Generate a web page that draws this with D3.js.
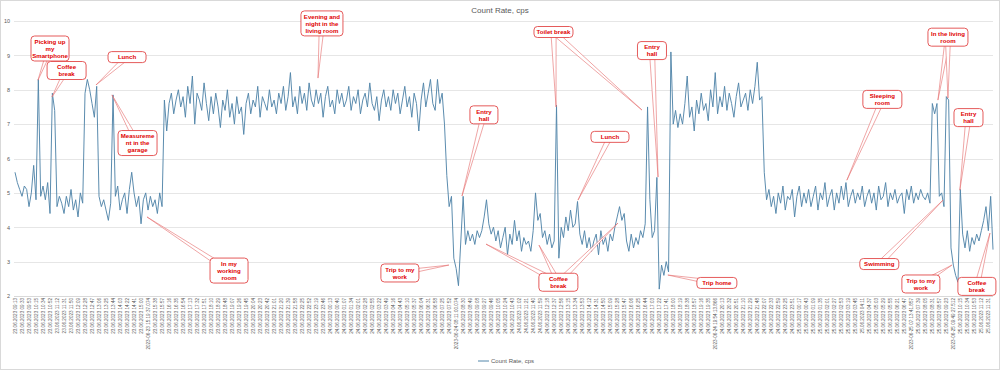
<!DOCTYPE html>
<html>
<head>
<meta charset="utf-8">
<script src="https://cdn.jsdelivr.net/npm/d3@7"></script>
<style>
body{margin:0;background:#fff;}
svg text{font-family:"Liberation Sans",Arial,sans-serif;}
</style>
</head>
<body>
<div id="plot"></div>
<script>
// Count rate readings (cps), three readings per x label
var countRate = [
	5.6, 5.3, 5.1, 4.9, 5.2, 5.1, 4.6, 5.0, 5.8, 4.8, 8.3, 4.9, 5.2, 4.8, 5.3, 4.4, 7.9, 7.4, 4.6, 4.9,
	4.7, 4.4, 4.9, 4.6, 5.1, 4.5, 4.8, 4.3, 5.0, 4.7, 7.9, 8.3, 8.0, 7.6, 7.2, 8.1, 4.9, 4.6, 4.8, 4.5,
	4.2, 4.7, 7.85, 4.9, 5.2, 4.5, 4.8, 5.0, 4.4, 5.1, 5.6, 5.0, 4.6, 4.9, 4.1, 4.8, 5.0, 4.5, 4.9, 4.6,
	4.8, 4.4, 5.0, 4.6, 7.7, 6.8, 7.6, 7.9, 7.3, 7.7, 8.0, 7.5, 7.8, 7.2, 8.1, 7.6, 8.4, 7.0, 7.9, 7.7,
	7.4, 8.2, 7.6, 7.1, 7.8, 7.3, 7.9, 7.5, 6.9, 7.7, 7.4, 8.0, 7.2, 7.6, 7.0, 7.8, 7.3, 7.5, 6.7, 7.6,
	7.9, 7.3, 7.7, 7.5, 8.1, 7.2, 7.8, 7.6, 7.4, 8.0, 7.5, 7.7, 7.3, 7.9, 7.6, 8.1, 7.4, 7.8, 8.5, 7.5,
	7.8, 7.3, 8.1, 7.6, 7.9, 7.4, 8.2, 7.7, 7.5, 8.0, 7.6, 7.9, 7.2, 7.8, 8.1, 7.5, 7.7, 7.3, 8.0, 7.6,
	7.9, 7.5, 7.7, 8.1, 7.4, 7.8, 7.6, 8.0, 7.3, 7.7, 7.9, 7.5, 8.2, 7.6, 7.4, 7.8, 7.1, 7.7, 8.0, 7.5,
	7.8, 7.4, 8.0, 7.6, 7.9, 7.3, 7.7, 8.1, 7.5, 7.8, 7.2, 7.9, 7.6, 6.8, 7.7, 8.2, 7.5, 7.9, 8.3, 7.6,
	7.4, 8.3, 7.6, 7.9, 7.0, 5.5, 4.6, 4.9, 3.1, 2.8, 2.3, 3.6, 4.9, 3.5, 3.9, 3.6, 3.8, 3.5, 3.9, 3.7,
	3.9, 4.3, 4.8, 4.1, 3.8, 4.0, 3.6, 3.9, 3.4, 3.7, 4.0, 3.2, 3.8, 3.5, 4.2, 3.6, 3.9, 3.3, 3.7, 3.5,
	3.6, 3.3, 3.9, 5.0, 4.2, 4.4, 3.7, 3.9, 3.5, 3.8, 3.4, 3.6, 7.55, 3.1, 4.0, 3.7, 4.3, 3.9, 4.5, 4.0,
	4.1, 4.75, 3.8, 3.5, 3.9, 3.4, 3.7, 3.3, 3.6, 3.8, 3.2, 3.9, 3.5, 3.7, 3.3, 3.8, 3.6, 4.0, 4.3, 4.6,
	4.2, 4.4, 3.6, 3.3, 3.8, 3.4, 3.7, 3.5, 3.9, 3.7, 4.1, 7.5, 4.8, 3.7, 3.9, 5.45, 2.2, 2.9, 2.6, 3.0,
	2.7, 9.1, 7.0, 7.4, 6.9, 7.3, 7.0, 7.6, 8.4, 7.2, 7.5, 6.8, 7.7, 7.3, 7.9, 7.4, 7.6, 7.1, 8.0, 7.5,
	8.5, 7.3, 7.8, 7.5, 8.1, 7.4, 7.9, 7.6, 7.2, 7.8, 8.2, 7.5, 7.7, 7.9, 7.4, 8.0, 7.6, 8.1, 8.8, 7.7,
	7.8, 5.6, 4.8, 5.1, 4.6, 4.9, 4.4, 5.0, 4.7, 5.2, 4.5, 4.9, 4.8, 5.1, 4.3, 4.9, 5.2, 4.6, 5.0, 4.7,
	5.1, 4.6, 4.9, 5.2, 4.5, 5.0, 4.8, 5.3, 4.6, 4.9, 5.1, 4.5, 5.0, 4.7, 5.2, 4.8, 5.3, 4.6, 4.9, 5.1,
	4.7, 5.0, 4.8, 5.2, 4.6, 4.9, 5.1, 4.7, 5.0, 4.5, 5.2, 4.8, 4.9, 5.3, 4.6, 5.0, 4.8, 5.1, 4.7, 4.9,
	5.0, 4.4, 5.1, 4.8, 5.2, 4.7, 5.0, 4.8, 5.1, 4.9, 4.8, 5.0, 4.7, 7.6, 7.3, 7.6, 4.9, 5.0, 4.6, 7.8,
	7.7, 3.4, 2.9, 2.6, 2.4, 5.1, 3.8, 3.4, 3.9, 3.3, 3.7, 3.5, 3.8, 3.6, 3.9, 4.2, 4.6, 3.9, 4.9, 3.35
];

var timeLabels = [
	"23.06.2023 09:13","23.06.2023 09:33","23.06.2023 09:53","23.06.2023 10:15","23.06.2023 10:34",
	"23.06.2023 10:52","23.06.2023 11:12","23.06.2023 11:31","23.06.2023 11:50","23.06.2023 12:09",
	"23.06.2023 12:28","23.06.2023 12:47","23.06.2023 13:06","23.06.2023 13:25","23.06.2023 13:44",
	"23.06.2023 14:03","23.06.2023 14:22","23.06.2023 14:41","23.06.2023 15:00","2023-06-23 15:19:37.074",
	"23.06.2023 15:38","23.06.2023 15:57","23.06.2023 16:16","23.06.2023 16:35","23.06.2023 16:54",
	"23.06.2023 17:13","23.06.2023 17:32","23.06.2023 17:51","23.06.2023 18:10","23.06.2023 18:29",
	"23.06.2023 18:48","23.06.2023 19:07","23.06.2023 19:26","23.06.2023 19:45","23.06.2023 20:04",
	"23.06.2023 20:23","23.06.2023 20:42","23.06.2023 21:01","23.06.2023 21:20","23.06.2023 21:39",
	"23.06.2023 21:58","23.06.2023 22:25","23.06.2023 22:52","23.06.2023 23:19","23.06.2023 23:46",
	"24.06.2023 00:13","24.06.2023 00:40","24.06.2023 01:07","24.06.2023 01:34","24.06.2023 02:01",
	"24.06.2023 02:28","24.06.2023 02:55","24.06.2023 03:22","24.06.2023 03:49","24.06.2023 04:16",
	"24.06.2023 04:43","24.06.2023 05:10","24.06.2023 05:37","24.06.2023 06:04","24.06.2023 06:31",
	"24.06.2023 06:58","24.06.2023 07:25","24.06.2023 07:52","2023-06-24 08:11:00.074",
	"24.06.2023 08:30","24.06.2023 08:49","24.06.2023 09:08","24.06.2023 09:27","24.06.2023 09:46",
	"24.06.2023 10:05","24.06.2023 10:24","24.06.2023 10:43","24.06.2023 11:02","24.06.2023 11:21",
	"24.06.2023 11:40","24.06.2023 11:59","24.06.2023 12:18","24.06.2023 12:37","24.06.2023 12:56",
	"24.06.2023 13:15","24.06.2023 13:34","24.06.2023 13:53","24.06.2023 14:12","24.06.2023 14:31",
	"24.06.2023 14:50","24.06.2023 15:09","24.06.2023 15:28","24.06.2023 15:47","24.06.2023 16:06",
	"24.06.2023 16:25","24.06.2023 16:44","24.06.2023 17:03","24.06.2023 17:22","24.06.2023 17:41",
	"24.06.2023 18:00","24.06.2023 18:19","24.06.2023 18:38","24.06.2023 18:57","24.06.2023 19:16",
	"24.06.2023 19:35","2023-06-24 19:54:13.866",
	"24.06.2023 20:13","24.06.2023 20:32","24.06.2023 20:51","24.06.2023 21:10","24.06.2023 21:29",
	"24.06.2023 21:48","24.06.2023 22:07","24.06.2023 22:33","24.06.2023 22:59","24.06.2023 23:25",
	"24.06.2023 23:51","25.06.2023 00:17","25.06.2023 00:43","25.06.2023 01:09","25.06.2023 01:35",
	"25.06.2023 02:01","25.06.2023 02:27","25.06.2023 02:53","25.06.2023 03:19","25.06.2023 03:45",
	"25.06.2023 04:11","25.06.2023 04:37","25.06.2023 05:03","25.06.2023 05:29","25.06.2023 05:55",
	"25.06.2023 06:21","25.06.2023 06:47","2023-06-25 07:13:41.857",
	"25.06.2023 07:39","25.06.2023 08:05","25.06.2023 08:31","25.06.2023 08:57","25.06.2023 09:23",
	"2023-06-25 09:49:27.512",
	"25.06.2023 10:15","25.06.2023 10:34","25.06.2023 10:53","25.06.2023 11:12","25.06.2023 11:31"
];
var labelStep = 3;

var yTicks = [2,3,4,5,6,7,8,9,10];

// callouts: box centre (i = reading index, v = cps), box width, pointer targets
var notes = [
	{lines:["Picking up","my","Smartphone"], i:15.0, v:9.20, w:38, to:[[9.85,8.28]]},
	{lines:["Coffee","break"], i:22.1, v:8.56, w:39, to:[[15.85,7.79]]},
	{lines:["Lunch"], i:48.0, v:8.95, w:38, to:[[34.7,8.14]]},
	{lines:["Measureme","nt in the","garage"], i:52.5, v:6.45, w:39, to:[[41.55,7.85]]},
	{lines:["Evening and","night in the","living room"], i:131.5, v:9.93, w:42, to:[[129.8,8.34]]},
	{lines:["In my","working","room"], i:91.7, v:2.74, w:38, to:[[56.55,4.30]]},
	{lines:["Trip to my","work"], i:164.9, v:2.67, w:38, to:[[185.9,2.90]]},
	{lines:["Entry","hall"], i:200.9, v:7.27, w:28, to:[[191.5,4.91]]},
	{lines:["Coffee","break"], i:232.8, v:2.40, w:39, to:[[201.8,3.51],[224.5,3.48],[258.3,4.12]]},
	{lines:["Lunch"], i:254.9, v:6.63, w:38, to:[[241.2,4.79]]},
	{lines:["Toilet break"], i:230.7, v:9.68, w:39, to:[[231.8,7.50],[268.6,7.41]]},
	{lines:["Entry","hall"], i:272.9, v:9.14, w:29, to:[[275.5,5.46]]},
	{lines:["Trip home"], i:300.7, v:2.38, w:40, to:[[279.7,2.61]]},
	{lines:["Sleeping","room"], i:371.6, v:7.72, w:39, to:[[356.4,5.37]]},
	{lines:["In the living","room"], i:399.7, v:9.53, w:40, to:[[395.4,7.70],[399.7,7.76]]},
	{lines:["Entry","hall"], i:408.5, v:7.19, w:29, to:[[404.8,5.08]]},
	{lines:["Swimming"], i:370.3, v:2.93, w:39, to:[[397.6,4.79]]},
	{lines:["Trip to my","work"], i:388.1, v:2.35, w:38, to:[[401.4,2.90]]},
	{lines:["Coffee","break"], i:412.1, v:2.28, w:38, to:[[417.7,3.83]]}
];

var width = 1000, height = 370;
var plotL = 15, plotR = 993, plotT = 21, plotB = 296;

var svg = d3.select('#plot').append('svg')
	.attr('width',width)
	.attr('height',height);

svg.append('rect')
	.attr('x',0.5).attr('y',0.5)
	.attr('width',width-1).attr('height',height-1)
	.style('fill','#fff').style('stroke','#d9d9d9');

var x = d3.scaleLinear().domain([0,countRate.length-1]).range([plotL,plotR]);
var y = d3.scaleLinear().domain([2,10]).range([plotB,plotT]);

// gridlines
svg.append('g').selectAll('line')
	.data(yTicks).enter().append('line')
	.attr('x1',plotL-1).attr('x2',plotR)
	.attr('y1',function(d){return Math.round(y(d))+0.5;})
	.attr('y2',function(d){return Math.round(y(d))+0.5;})
	.style('stroke',function(d){return d==2?'#d9d9d9':'#e6e6e6';})
	.style('stroke-width',1);

// y axis labels
var yAxis = svg.append('g')
	.attr('transform','translate(10,0)')
	.call(d3.axisLeft(y).tickValues(yTicks).tickSize(0).tickPadding(0));
yAxis.select('.domain').remove();
yAxis.selectAll('text').style('font-size','5.5px').style('fill','#595959');

// x axis labels
var tickIdx = timeLabels.map(function(d,k){return k*labelStep;});
var xAxis = svg.append('g')
	.attr('transform','translate(0,'+plotB+')')
	.call(d3.axisBottom(x).tickValues(tickIdx).tickSize(0)
		.tickFormat(function(d){return timeLabels[d/labelStep];}));
xAxis.select('.domain').remove();
xAxis.selectAll('text')
	.attr('transform','rotate(-90)')
	.attr('x',-2).attr('y',0).attr('dy','0.35em')
	.style('text-anchor','end')
	.style('font-size','4.6px')
	.style('fill','#595959');

// the series
var line = d3.line()
	.x(function(d,i){return x(i);})
	.y(function(d){return y(d);});

svg.append('path')
	.datum(countRate)
	.attr('d',line)
	.style('fill','none')
	.style('stroke','#5286aa')
	.style('stroke-width',0.95)
	.style('stroke-linejoin','round');

// title
svg.append('text')
	.attr('x',width/2).attr('y',13)
	.attr('text-anchor','middle')
	.style('font-size','8px')
	.style('fill','#595959')
	.text('Count Rate, cps');

// legend
var leg = svg.append('g').attr('transform','translate(478,361)');
leg.append('line').attr('x1',0).attr('x2',11).attr('y1',0).attr('y2',0)
	.style('stroke','#5286aa').style('stroke-width',1);
leg.append('text').attr('x',13).attr('y',2)
	.style('font-size','6px').style('fill','#595959')
	.text('Count Rate, cps');

// callouts
var lineH = 7;
var cg = svg.append('g');

notes.forEach(function(n){
	var cx = x(n.i), cy = y(n.v);
	n.to.forEach(function(t){
		var tx = x(t[0]), ty = y(t[1]);
		var dx = tx-cx, dy = ty-cy;
		var len = Math.sqrt(dx*dx+dy*dy);
		var px = -dy/len*2.6, py = dx/len*2.6;
		cg.append('path')
			.attr('d','M'+(cx+px)+','+(cy+py)+'L'+tx+','+ty+'L'+(cx-px)+','+(cy-py)+'Z')
			.style('fill','#fff')
			.style('stroke','#e46a6a')
			.style('stroke-width',0.6);
	});
});

notes.forEach(function(n){
	var cx = x(n.i), cy = y(n.v);
	var h = n.lines.length*lineH+4;
	cg.append('rect')
		.attr('x',cx-n.w/2).attr('y',cy-h/2)
		.attr('width',n.w).attr('height',h)
		.attr('rx',3.5).attr('ry',3.5)
		.style('fill','#fff')
		.style('stroke','#e24848')
		.style('stroke-width',0.9);
	n.lines.forEach(function(s,k){
		cg.append('text')
			.attr('x',cx)
			.attr('y',cy-h/2+2+lineH*(k+1)-1.3)
			.attr('text-anchor','middle')
			.style('font-size','6.1px')
			.style('font-weight','bold')
			.style('fill','#e00000')
			.text(s);
	});
});
</script>
</body>
</html>
